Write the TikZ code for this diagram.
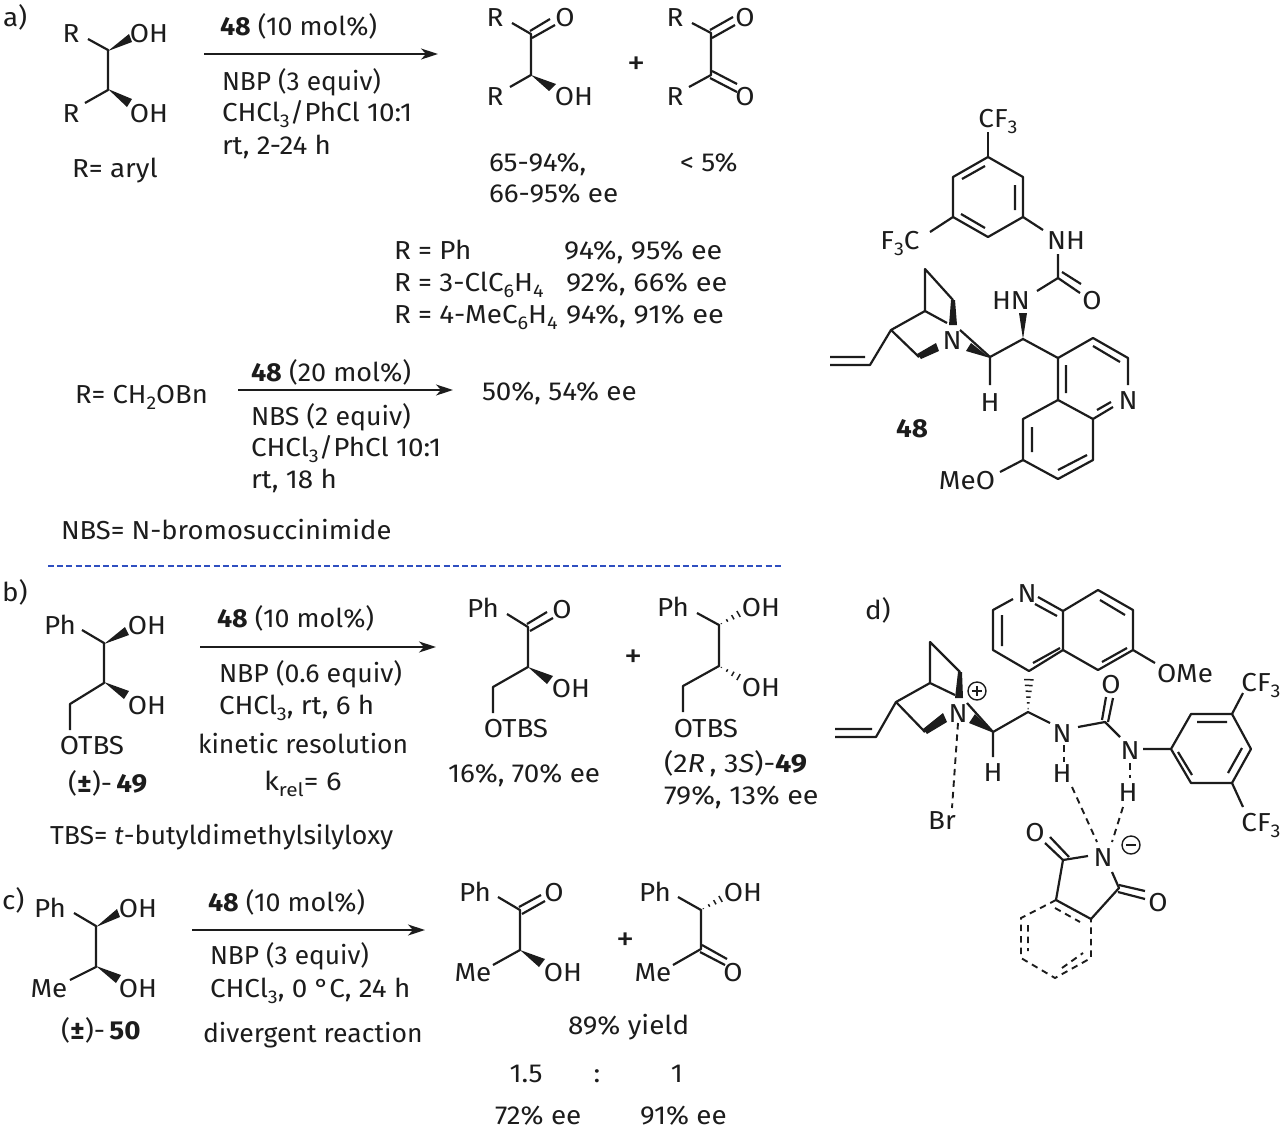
\documentclass[tikz,border=0pt]{standalone}
\usepackage{graphicx}
\usepackage{fontspec}
\setmainfont[FakeStretch=1.07]{Fira Sans}
\usetikzlibrary{arrows.meta,calc}
\definecolor{ink}{HTML}{1C1C1C}
\definecolor{sepblue}{HTML}{2F4FC0}
\newcommand{\lsub}[1]{\raisebox{-0.24em}{\fontsize{18.5}{18.5}\selectfont #1}}
\newcommand{\sq}[2]{\scalebox{#1}[1]{#2}}
\newcommand{\wdg}[3]{\fill[ink] #1 -- #2 -- #3 -- cycle;}
% hashed wedge from narrow end #1 to wide end #2, half width #3 pt, ticks #4
\newcommand{\hsh}[4]{%
  \coordinate (hA) at #1; \coordinate (hB) at #2;
  \foreach \t in {#4} {
    \draw[ink,line width=1.5pt] ($(hA)!\t!(hB)!\t*#3pt!90:(hB)$) -- ($(hA)!\t!(hB)!\t*#3pt!-90:(hB)$);
  }}
\tikzset{
  bond/.style={ink,line width=2.2pt,line join=round},
  dbond/.style={ink,line width=1.9pt,dash pattern=on 6.5pt off 5pt},
  rxn/.style={ink,line width=1.8pt,-{Stealth[length=17pt,width=11pt,inset=5pt]}},
  txt/.style={anchor=base west,inner sep=0pt,outer sep=0pt,text=ink,font=\fontsize{26}{30}\selectfont,yshift=-9pt},
  ctr/.style={txt,anchor=base},
  pls/.style={anchor=center,inner sep=0pt,outer sep=0pt,text=ink,font=\fontsize{34}{34}\selectfont,yshift=-4pt},
  chg/.style={circle,draw=ink,line width=1.4pt,minimum size=18pt,inner sep=0pt,outer sep=0pt}
}
\begin{document}
\begin{tikzpicture}[x=1pt,y=-1pt]
\useasboundingbox (0,0) rectangle (1280,1133);
% ---------- a)
\node[txt] (la) at (3,17) {a)};
\node[ctr] (a1) at (71,33) {R};
\node[ctr] (a2) at (149,33) {OH};
\node[ctr] (a3) at (71,113) {R};
\node[ctr] (a4) at (149,113) {OH};
\draw[bond] (88,39)--(108,50)--(108,90)--(85,103);
\wdg{(108,51)}{(129,34)}{(132,42)}
\wdg{(108,89)}{(127,107)}{(132,99)}
\node[txt] (a5) at (72,168) {R= aryl};
\coordinate (arAs) at (204,54); \coordinate (arAe) at (438,54);
\draw[rxn] (arAs)--(arAe);
\node[txt] (a6) at (220,26) {\sq{0.965}{\textbf{48} (10 mol\%)}};
\node[txt] (a7) at (222,81) {\sq{0.945}{NBP (3 equiv)}};
\node[txt] (a8) at (222,112) {CHCl\lsub{3}/PhCl 10:1};
\node[txt] (a9) at (222,145) {rt, 2-24 h};
\node[ctr] (a10) at (495,17) {R};
\node[ctr] (a11) at (565,17) {O};
\node[ctr] (a12) at (495,96) {R};
\node[ctr] (a13) at (574,96) {OH};
\draw[bond] (512,23)--(531,34)--(531,75)--(510,87);
\draw[bond] (530,31)--(550,19) (532,38)--(555,25);
\wdg{(531,75)}{(549,91)}{(556,84)}
\node[pls] (a14) at (637,62) {+};
\node[ctr] (a15) at (675,17) {R};
\node[ctr] (a16) at (745,17) {O};
\node[ctr] (a17) at (675,96) {R};
\node[ctr] (a18) at (745,96) {O};
\draw[bond] (692,23)--(711,33)--(711,75)--(689,87);
\draw[bond] (710,30)--(733,17) (712,38)--(735,25);
\draw[bond] (710,78)--(737,92) (712,71)--(737,84);
\node[txt] (a19) at (489,162) {65-94\%,};
\node[txt] (a20) at (489,193) {66-95\% ee};
\node[txt] (a21) at (680,162) {< 5\%};
\node[txt] (a22) at (394,250) {R = Ph};
\node[txt] (a23) at (564,250) {\sq{1.03}{94\%, 95\% ee}};
\node[txt] (a24) at (394,282) {R = 3-ClC\lsub{6}H\lsub{4}};
\node[txt] (a25) at (566,282) {\sq{1.04}{92\%, 66\% ee}};
\node[txt] (a26) at (394,314) {R = 4-MeC\lsub{6}H\lsub{4}};
\node[txt] (a27) at (566,314) {\sq{1.04}{94\%, 91\% ee}};
\node[txt] (a28) at (75,394) {\sq{0.985}{R= CH\lsub{2}OBn}};
\coordinate (arBs) at (238,390); \coordinate (arBe) at (453,390);
\draw[rxn] (arBs)--(arBe);
\node[txt] (a29) at (251,372) {\sq{0.97}{\textbf{48} (20 mol\%)}};
\node[txt] (a30) at (251,416) {\sq{0.96}{NBS (2 equiv)}};
\node[txt] (a31) at (251,447) {CHCl\lsub{3}/PhCl 10:1};
\node[txt] (a32) at (251,479) {rt, 18 h};
\node[txt] (a33) at (482,391) {50\%, 54\% ee};
\node[txt] (a34) at (61,530) {\sq{0.985}{NBS= N-bromosuccinimide}};
\coordinate (sepL) at (48,566); \coordinate (sepR) at (782,566);
\draw[sepblue,line width=1.5pt,dash pattern=on 6pt off 3.2pt] (sepL)--(sepR);
% ---------- 48
\node[ctr] (s1) at (998,118) {CF\lsub{3}};
\node[ctr] (s2) at (900,240) {F\lsub{3}C};
\node[ctr] (s3) at (1066,240) {NH};
\node[ctr] (s4) at (1092,300) {O};
\node[ctr] (s5) at (1011,300) {HN};
\node[ctr] (s6) at (1128,400) {N};
\node[ctr] (s7) at (990,402) {H};
\node[ctr] (s8) at (952,340) {N};
\node[ctr] (s9) at (967,480) {MeO};
\node[ctr] (s10) at (912,428) {\textbf{48}};
\draw[bond] (988,132)--(988,157);
\draw[bond] (988,157)--(1023,177)--(1023,217)--(988,237)--(953,217)--(953,177)--cycle;
\draw[bond] (985,166)--(962,179) (1015,185)--(1015,210) (985,228)--(961,214);
\draw[bond] (953,217)--(930,232) (1023,217)--(1043,230);
\draw[bond] (1058,254)--(1058,278)--(1037,291);
\draw[bond] (1058,278)--(1080,293) (1062,272)--(1081,284);
\wdg{(1023,339)}{(1019,313)}{(1027,313)}
\draw[bond] (1058,358)--(1093,338)--(1128,358)--(1128,385);
\draw[bond] (1058,358)--(1058,400)--(1023,419)--(1023,460)--(1058,479)--(1093,460)--(1093,419)--(1058,400);
\draw[bond] (1093,419)--(1113,407);
\draw[bond] (1093,346)--(1120,362) (1066,365)--(1066,393) (1097,410)--(1111,402);
\draw[bond] (1032,427)--(1032,452) (1058,470)--(1087,455);
\draw[bond] (1023,460)--(1000,472);
\draw[bond] (1058,358)--(1023,339)--(990,357)--(990,385);
\draw[bond] (960,330)--(990,357);
\wdg{(990,358)}{(966,351)}{(971,343)}
\draw[bond] (925,311)--(925,269)--(953,300);
\fill[ink] (951,300)--(955,300)--(957,325)--(949,325)--cycle;
\draw[bond] (925,311)--(947,323);
\draw[bond] (925,311)--(891,330)--(919,357);
\fill[ink] (917,354)--(921,359)--(939,351)--(936,343)--cycle;
\draw[bond] (891,330)--(870,365)--(830,365) (830,357)--(865,357);
% ---------- b)
\node[txt] (lb) at (2,592) {b)};
\node[ctr] (b1) at (60,625) {Ph};
\node[ctr] (b2) at (147,625) {OH};
\node[ctr] (b3) at (147,705) {OH};
\node[ctr] (b4) at (92,745) {OTBS};
\node[txt] (b5) at (68,783) {(\textbf{±})-\,\textbf{49}};
\draw[bond] (82,630)--(104,643)--(104,683)--(70,704)--(70,730);
\wdg{(104,644)}{(125,627)}{(129,635)}
\wdg{(104,682)}{(124,699)}{(129,691)}
\coordinate (arCs) at (200,647); \coordinate (arCe) at (436,647);
\draw[rxn] (arCs)--(arCe);
\node[txt] (b6) at (217,618) {\sq{0.965}{\textbf{48} (10 mol\%)}};
\node[txt] (b7) at (219,673) {\sq{0.96}{NBP (0.6 equiv)}};
\node[txt] (b8) at (219,705) {CHCl\lsub{3}, rt, 6 h};
\node[txt] (b9) at (198,744) {\sq{0.95}{kinetic resolution}};
\node[txt] (b10) at (264,781) {\sq{1.05}{k\lsub{rel}= 6}};
\node[txt] (b11) at (50,835) {\sq{0.96}{TBS= \textit{t}-butyldimethylsilyloxy}};
\node[ctr] (b12) at (483,608) {Ph};
\node[ctr] (b13) at (562,609) {O};
\node[ctr] (b14) at (571,688) {OH};
\node[ctr] (b15) at (516,728) {OTBS};
\draw[bond] (507,614)--(528,627)--(528,667)--(493,687)--(493,713);
\draw[bond] (527,624)--(547,612) (530,631)--(553,618);
\wdg{(528,667)}{(547,684)}{(553,676)}
\node[txt] (b16) at (448,773) {16\%, 70\% ee};
\node[pls] (b17) at (634,655) {+};
\node[ctr] (b18) at (673,607) {Ph};
\node[ctr] (b19) at (761,607) {OH};
\node[ctr] (b20) at (761,687) {OH};
\node[ctr] (b21) at (706,728) {OTBS};
\draw[bond] (697,613)--(719,625)--(719,666)--(683,686)--(683,712);
\hsh{(719,625)}{(742,612)}{4}{0.1,0.35,0.6,0.85}
\hsh{(719,666)}{(742,679)}{4}{0.1,0.35,0.6,0.85}
\node[txt] (b22) at (664,763) {\sq{1.04}{(2\textit{R}\,, 3\textit{S})-\textbf{49}}};
\node[txt] (b23) at (664,795) {\sq{1.03}{79\%, 13\% ee}};
% ---------- c)
\node[txt] (lc) at (2,900) {c)};
\node[ctr] (c1) at (50,908) {Ph};
\node[ctr] (c2) at (138,908) {OH};
\node[ctr] (c3) at (49,988) {Me};
\node[ctr] (c4) at (138,988) {OH};
\draw[bond] (74,913)--(96,926)--(96,967)--(70,980);
\wdg{(96,927)}{(117,909)}{(120,917)}
\wdg{(96,966)}{(116,983)}{(121,975)}
\node[txt] (c5) at (61,1030) {(\textbf{±})-\,\textbf{50}};
\coordinate (arDs) at (192,930); \coordinate (arDe) at (425,930);
\draw[rxn] (arDs)--(arDe);
\node[txt] (c6) at (208,902) {\sq{0.965}{\textbf{48} (10 mol\%)}};
\node[txt] (c7) at (210,955) {\sq{0.945}{NBP (3 equiv)}};
\node[txt] (c8) at (210,988) {CHCl\lsub{3}, 0 °C, 24 h};
\node[txt] (c9) at (203,1033) {\sq{0.955}{divergent reaction}};
\node[ctr] (c10) at (475,892) {Ph};
\node[ctr] (c11) at (554,892) {O};
\node[ctr] (c12) at (473,972) {Me};
\node[ctr] (c13) at (563,972) {OH};
\draw[bond] (498,897)--(520,910)--(520,950)--(493,965);
\draw[bond] (519,907)--(541,895) (522,914)--(545,901);
\wdg{(520,950)}{(539,967)}{(545,959)}
\node[pls] (c14) at (626,938) {+};
\node[ctr] (c15) at (655,892) {Ph};
\node[ctr] (c16) at (743,892) {OH};
\node[ctr] (c17) at (653,972) {Me};
\node[ctr] (c18) at (733,972) {O};
\draw[bond] (678,897)--(701,910)--(701,949)--(673,965);
\hsh{(701,910)}{(724,897)}{4}{0.1,0.35,0.6,0.85}
\draw[bond] (700,952)--(725,965) (702,945)--(727,959);
\node[txt] (c19) at (568,1025) {89\% yield};
\node[ctr] (c20) at (526,1073) {1.5};
\node[ctr] (c21) at (597,1073) {:};
\node[ctr] (c22) at (677,1073) {1};
\node[txt] (c23) at (495,1115) {72\% ee};
\node[txt] (c24) at (640,1115) {91\% ee};
% ---------- d)
\node[txt] (ld) at (865,610) {d)};
\node[ctr] (d1) at (1027,593) {N};
\node[ctr] (d2) at (1185,673) {OMe};
\node[ctr] (d3) at (1111,684) {O};
\node[ctr] (d4) at (1261,682) {CF\lsub{3}};
\node[ctr] (d5) at (1261,822) {CF\lsub{3}};
\node[ctr] (d6) at (1062,733) {N};
\node[ctr] (d7) at (1130,750) {N};
\node[ctr] (d8) at (1062,773) {H};
\node[ctr] (d9) at (1128,792) {H};
\node[ctr] (d10) at (993,772) {H};
\node[ctr] (d11) at (958,713) {N};
\node[ctr] (d12) at (942,820) {Br};
\node[ctr] (d13) at (1103,857) {N};
\node[ctr] (d14) at (1035,832) {O};
\node[ctr] (d15) at (1158,902) {O};
\node[chg] (d16) at (977,691) {};
\draw[ink,line width=1.4pt] (972,691)--(982,691) (977,686)--(977,696);
\node[chg] (d17) at (1131,845) {};
\draw[ink,line width=1.4pt] (1126,845)--(1136,845);
\draw[bond] (1013,599)--(993,610)--(993,650)--(1029,671)--(1063,650)--(1063,611)--(1038,597);
\draw[bond] (1063,611)--(1098,590)--(1133,610)--(1133,650)--(1098,670)--(1063,650);
\draw[bond] (1035,604)--(1057,616) (1002,615)--(1002,646) (1033,663)--(1060,648);
\draw[bond] (1102,662)--(1127,648) (1100,600)--(1125,615);
\draw[bond] (1133,650)--(1155,663);
\hsh{(1028,712)}{(1029,678)}{5}{0.1,0.27,0.44,0.61,0.78,0.95}
\draw[bond] (993,732)--(1028,712)--(1050,723);
\draw[bond] (1078,727)--(1105,722)--(1120,737) (1143,749)--(1171,749);
\draw[bond] (1102,720)--(1106,697) (1108,722)--(1113,698);
\draw[bond] (1171,749)--(1191,714)--(1232,714)--(1251,749)--(1232,783)--(1191,783)--cycle;
\draw[bond] (1197,722)--(1227,722) (1242,748)--(1228,773) (1178,752)--(1192,775);
\draw[bond] (1232,714)--(1243,693) (1232,783)--(1243,807);
\draw[dbond] (1064,745)--(1064,762);
\draw[dbond] (1130,763)--(1130,778);
\draw[dbond] (1072,787)--(1097,842);
\draw[dbond] (1123,807)--(1112,842);
\draw[dbond] (958,723)--(952,808);
\draw[bond] (1088,856)--(1063,860)--(1056,900)--(1091,919)--(1119,888)--(1112,872);
\draw[bond] (1063,860)--(1045,843) (1069,857)--(1050,837);
\draw[bond] (1119,885)--(1145,891) (1118,892)--(1145,899);
\draw[dbond] (1056,900)--(1021,918)--(1021,958)--(1055,978)--(1091,958)--(1091,919);
\draw[dbond] (1055,908)--(1080,922) (1028,925)--(1028,951) (1062,968)--(1083,953);
\draw[bond] (930,683)--(930,642)--(960,672);
\fill[ink] (958,672)--(962,672)--(963,698)--(955,698)--cycle;
\draw[bond] (930,683)--(955,695);
\draw[bond] (930,683)--(896,702)--(925,732);
\fill[ink] (923,729)--(927,734)--(947,722)--(943,713)--cycle;
\draw[bond] (896,702)--(876,737)--(835,737) (835,729)--(872,729);
\draw[bond] (967,703)--(993,732)--(993,757);
\wdg{(994,733)}{(969,723)}{(975,714)}
\end{tikzpicture}
\end{document}
